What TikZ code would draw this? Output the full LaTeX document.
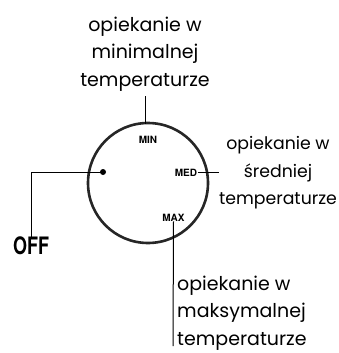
\documentclass[tikz,border=0pt]{standalone}
\usepackage{fontspec}
\setmainfont{Poppins}
\newfontfamily\offfont{TeX Gyre Heros}
\begin{document}
\begin{tikzpicture}[x=1pt,y=-1pt,
  lbl/.style={inner sep=0pt,font={\fontsize{17.3}{27.5}\selectfont},align=center},
  tiny/.style={inner sep=0pt,font={\offfont\bfseries\fontsize{10}{10}\selectfont}},
  lead/.style={line width=1pt,black}]
\useasboundingbox (0,0) rectangle (339,353);
% dial
\node[circle,draw=black!85,line width=2.6pt,minimum size=120pt,inner sep=0pt] (dial) at (148,183) {};
\node[tiny] (min) at (148,139.5) {MIN};
\node[tiny] (med) at (186,173) {MED};
\node[tiny] (max) at (173.5,217.5) {MAX};
\fill (103,172) circle (3pt);
\coordinate (dotc) at (103,172);
% texts
\node[lbl,font={\fontsize{19}{27.5}\selectfont}] (topt) at (145,54) {opiekanie w\\minimalnej\\temperaturze};
\node[lbl] (rt) at (278,173) {opiekanie w\\średniej\\temperaturze};
\node[lbl,align=left,anchor=west,font={\fontsize{19}{27.5}\selectfont}] (bt) at (177,313) {opiekanie w\\maksymalnej\\temperaturze};
\node[inner sep=0pt,font={\offfont\bfseries\fontsize{24}{24}\selectfont}] (off) at (31,246) {\scalebox{0.75}[1]{OFF}};
% connectors
\coordinate (topend) at (145,96);
\coordinate (topc) at (145,123.5);
\draw[lead] (topend) -- (topc);
\coordinate (medA) at (198,172);
\coordinate (medB) at (219,172);
\draw[lead] (medA) -- (medB);
\coordinate (offc) at (31,172);
\draw[lead] (dotc) -- (offc) -- (off.north);
\coordinate (maxend) at (173,346);
\draw[lead] (max.south) -- (maxend);
\end{tikzpicture}
\end{document}
